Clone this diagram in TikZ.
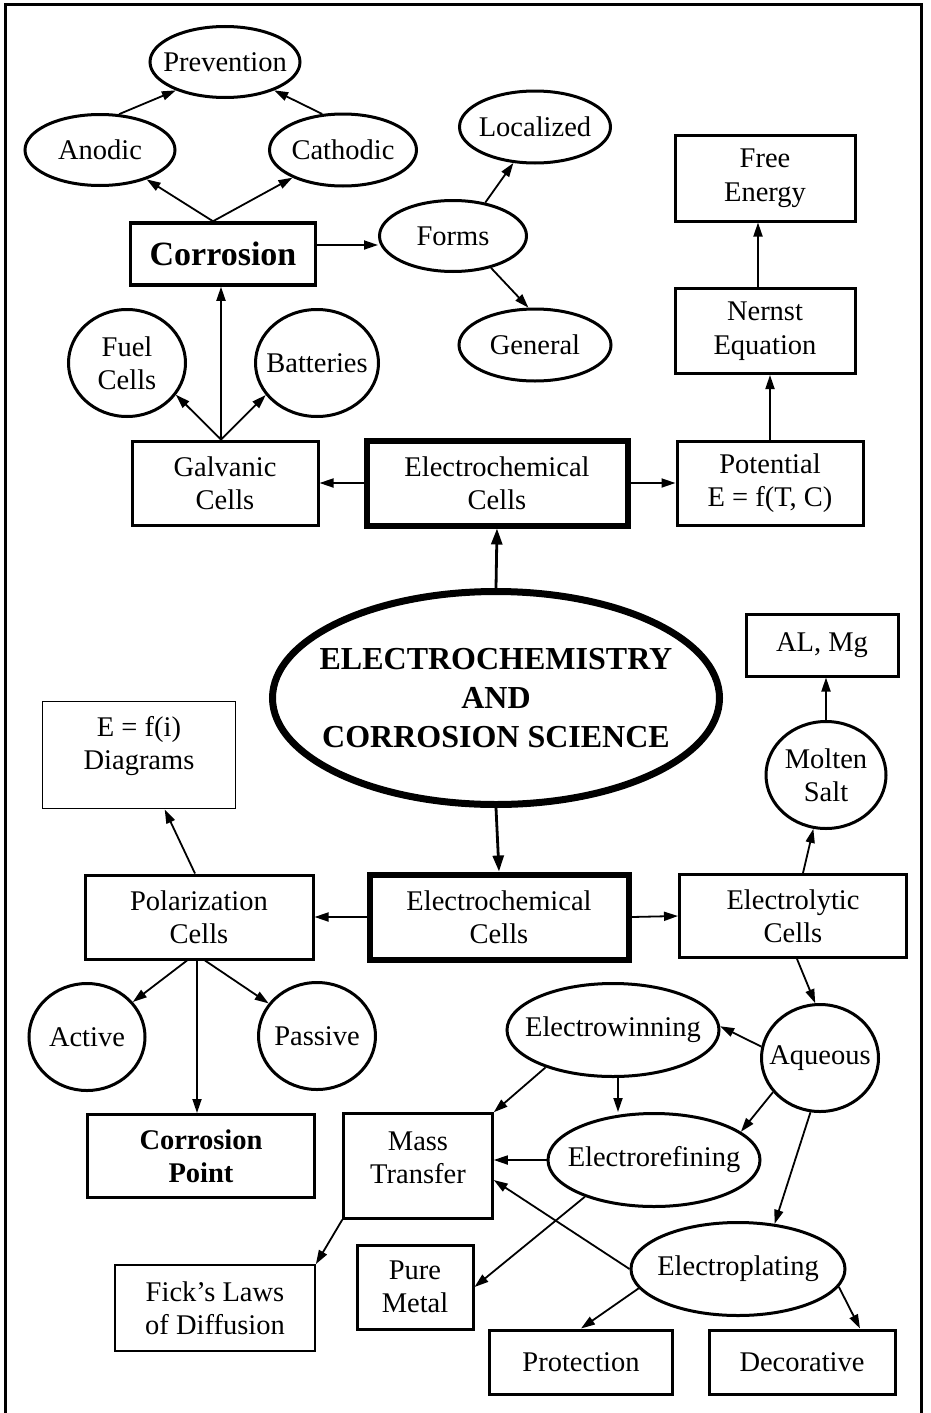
\documentclass[tikz,border=0pt]{standalone}
\usepackage{fontspec}
\setmainfont{Liberation Serif}
\usetikzlibrary{shapes.geometric}
\usetikzlibrary{arrows.meta}

\tikzset{
   box/.style={draw, line width=3pt, align=center, inner sep=0pt},
   thinbox/.style={box, line width=1.7pt},
   heavybox/.style={box, line width=6pt},
   oval/.style={draw, ellipse, line width=3pt, inner sep=0pt},
   dims/.style 2 args={minimum width=#1pt, minimum height=#2pt},
   arr/.style={-{Triangle[length=14pt,width=9pt]}, line width=1.8pt},
   bigarr/.style={-{Triangle[length=16pt,width=11pt]}, line width=2.8pt},
   every label/.style={align=center, inner sep=0pt}
}

\begin{document}
\begin{tikzpicture}[x=1pt, y=-1pt, font=\fontsize{28.5}{33.5}\selectfont]
   \useasboundingbox (0,0) rectangle (930,1413);
   \draw[line width=3pt] (5,1440) -- (5,5) -- (921,5) -- (921,1440);

   % corrosion branch
   \node[oval, dims={150}{71}, label=center:Prevention] (prev) at (225,62) {};
   \node[oval, dims={150}{71}, label=center:Anodic] (anod) at (100,150) {};
   \node[oval, dims={147}{72}, label=center:Cathodic] (cath) at (343,150) {};
   \node[box, line width=3.5pt, dims={185}{62},
      font=\fontsize{34}{40}\selectfont\bfseries] (corr) at (223,254) {Corrosion};
   \node[oval, dims={147}{71}, label=center:Forms] (forms) at (453,236) {};
   \node[oval, dims={151}{72}, label=center:Localized] (local) at (535,127) {};
   \node[oval, dims={152}{72}, label=center:General] (gen) at (535,345) {};
   \node[oval, dims={117}{107}, label=center:Fuel\\Cells] (fuel) at (127,363) {};
   \node[oval, dims={123}{107}, label=center:Batteries] (batt) at (317,363) {};

   % potential branch
   \node[box, dims={180}{86}] (free) at (765,178) {Free\\Energy};
   \node[box, dims={180}{85}] (nernst) at (765,331) {Nernst\\Equation};
   \node[box, dims={186}{84}] (pot) at (770,483) {Potential\\E = f(T, C)};
   \node[box, dims={186}{84}] (galv) at (225,483) {Galvanic\\Cells};
   \node[heavybox, dims={261}{85}] (ectop) at (497,483) {Electrochemical\\Cells};

   % centre
   \node[oval, line width=7pt, dims={447}{213},
      label={[font=\fontsize{32}{39}\selectfont\bfseries]center:ELECTROCHEMISTRY\\AND\\CORROSION SCIENCE}]
      (core) at (496,698) {};

   % lower half
   \node[box, dims={152}{62}] (almg) at (822,645) {AL, Mg};
   \node[oval, dims={120}{107}, label=center:Molten\\Salt] (molten) at (826,775) {};
   \node[thinbox, dims={193}{107}, label={[yshift=9pt]center:E = f(i)\\Diagrams}] (diag) at (139,755) {};
   \node[box, dims={228}{84}] (pol) at (199,917) {Polarization\\Cells};
   \node[heavybox, dims={259}{85}] (ecbot) at (499,917) {Electrochemical\\Cells};
   \node[box, dims={227}{83}] (lytic) at (793,916) {Electrolytic\\Cells};
   \node[oval, dims={116}{107}, label=center:Active] (active) at (87,1037) {};
   \node[oval, dims={117}{107}, label=center:Passive] (passive) at (317,1036) {};
   \node[box, font=\fontsize{28.5}{33.5}\selectfont\bfseries, dims={227}{83}] (cpt) at (201,1156) {Corrosion\\Point};
   \node[box, line width=2.5pt, dims={149}{105}, label={[yshift=8pt]center:Mass\\Transfer}] (mass) at (418,1166) {};
   \node[thinbox, dims={200}{86}] (fick) at (215,1308) {Fick’s Laws\\of Diffusion};
   \node[box, dims={116}{84}] (pure) at (415,1287) {Pure\\Metal};
   \node[oval, dims={212}{93}, label=center:Electrowinning] (win) at (613,1030) {};
   \node[oval, dims={117}{107}, label=center:Aqueous] (aq) at (820,1058) {};
   \node[oval, dims={212}{93}, label=center:Electrorefining] (rfn) at (654,1160) {};
   \node[oval, dims={214}{93}, label=center:Electroplating] (plate) at (738,1269) {};
   \node[box, dims={183}{64}] (prot) at (581,1362) {Protection};
   \node[box, dims={186}{64}] (deco) at (802,1362) {Decorative};

   % connectors
   \draw[arr] ([xshift=-10pt]corr.north) -- (anod);
   \draw[arr] ([xshift=-10pt]corr.north) -- (cath);
   \draw[arr] (anod.62) -- (prev.210);
   \draw[arr] (cath.120) -- (prev.-30);
   \draw[arr] ([yshift=9pt]corr.east) -- ([yshift=9pt]corr.east -| forms.west);
   \draw[arr] (forms.46) -- (local.-121);
   \draw[arr] (forms.-40) -- (gen.100);
   \draw[arr] ([xshift=-7pt]nernst.north) -- ([xshift=-7pt]free.south);
   \draw[arr] (pot.north) -- (pot.north |- nernst.south);
   \draw[arr] ([xshift=-4pt]galv.north) -- ([xshift=-4pt]galv.north |- corr.south);
   \draw[arr] ([xshift=-4pt]galv.north) -- (fuel.-33);
   \draw[arr] ([xshift=-4pt]galv.north) -- (batt.-148);
   \draw[arr] (ectop.west) -- (galv.east);
   \draw[arr] (ectop.east) -- (pot.west);
   \draw[bigarr] (core.north) -- (ectop.south);
   \draw[bigarr] (core.south) -- (ecbot.north);
   \draw[arr] (ecbot.west) -- (pol.east);
   \draw[arr] (ecbot.east) -- (lytic.west);
   \draw[arr] ([xshift=10pt]lytic.north) -- (molten);
   \draw[arr] (molten.north) -- (molten.north |- almg.south);
   \draw[arr] ([xshift=-4pt]pol.north) -- (diag);
   \draw[arr] ([xshift=-12pt]pol.south) -- (active);
   \draw[arr] ([xshift=6pt]pol.south) -- (passive);
   \draw[arr] ([xshift=-2pt]pol.south) -- ([xshift=-2pt]pol.south |- cpt.north);
   \draw[arr] ([xshift=4pt]lytic.south) -- (aq.95);
   \draw[arr] (aq.169) -- (win.2);
   \draw[arr] (win.209) -- (mass.north east);
   \draw[arr] ([xshift=5pt]win.south) -- ([xshift=5pt]win.south |- rfn.north);
   \draw[arr] (aq.216) -- (rfn.18);
   \draw[arr] (aq.-100) -- (plate.51);
   \draw[arr] (rfn.west) -- (rfn.west -| mass.east);
   \draw[arr] (plate.west) -- ([yshift=-14pt]mass.east);
   \draw[arr] (rfn.208) -- (pure.east);
   \draw[arr] (mass.south west) -- (fick.north east);
   \draw[arr] (plate.191) -- (prot.north);
   \draw[arr] (plate.-10) -- ([xshift=58pt]deco.north);
\end{tikzpicture}
\end{document}
